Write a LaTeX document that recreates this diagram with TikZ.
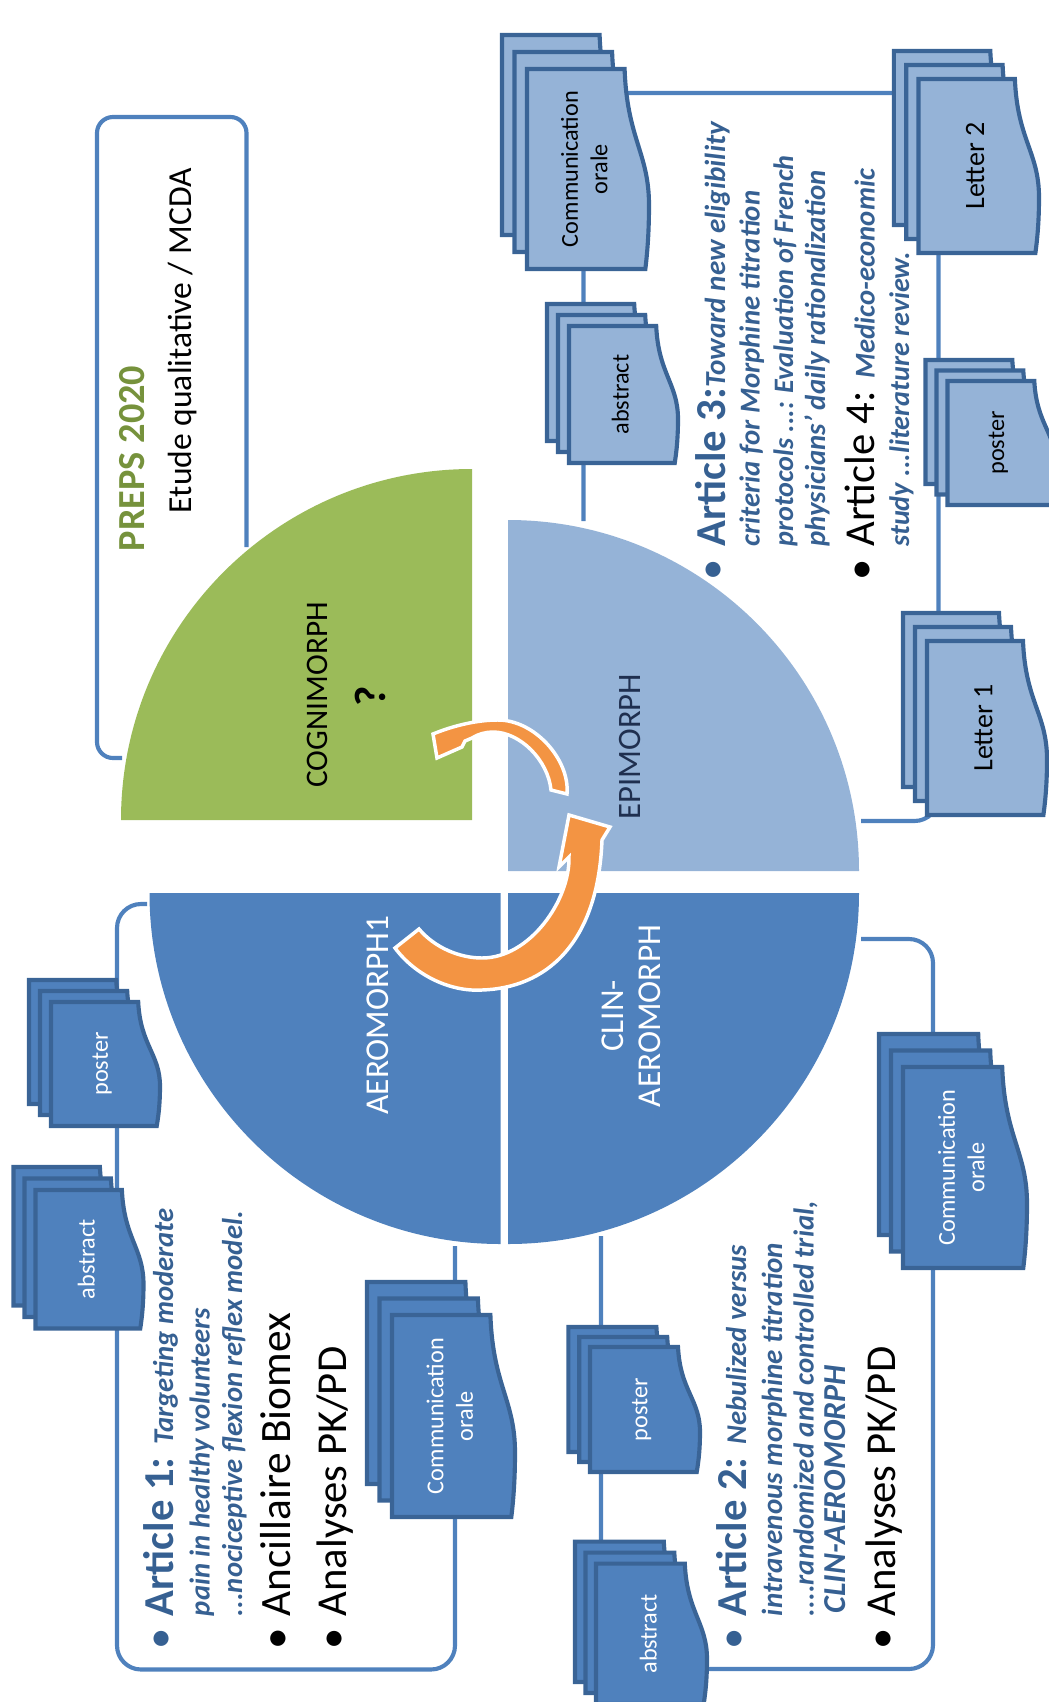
\documentclass[tikz,border=0pt]{standalone}
\usepackage{fontspec}
\setmainfont{Carlito}
\definecolor{quadblue}{HTML}{4F81BD}
\definecolor{quadlight}{HTML}{95B3D7}
\definecolor{quadgreen}{HTML}{9BBB59}
\definecolor{prepsgreen}{HTML}{76923C}
\definecolor{arrowor}{HTML}{F39443}
\definecolor{docline}{HTML}{3A6496}
\definecolor{txtblue}{HTML}{366092}
\definecolor{txtnavy}{HTML}{1F2F4F}
\newcommand{\fs}[1]{\fontsize{#1}{#1}\selectfont}
\newcommand{\blt}{\makebox[25pt][l]{•}}
\tikzset{every picture/.style={line width=0.75pt},
  vtxt/.style={rotate=90,anchor=base west,inner sep=0pt},
  vmid/.style={rotate=90,anchor=center,inner sep=0pt,align=center},
  linkline/.style={draw=quadblue,line width=3.1pt,rounded corners=18pt},
  ringarrow/.style={fill=arrowor,draw=white,line width=2.6pt,line join=miter},
  docdark/.style={fill=quadblue,draw=docline,line width=3.1pt},
  doclight/.style={fill=quadlight,draw=docline,line width=3.1pt},
  docdarktxt/.style={text=white,font=\fs{18.2}},
  doclighttxt/.style={text=black,font=\fs{18.2}}}
%name, left, top, bottom, right, dx, dy, style, label
\newcommand{\multidoc}[9]{
  \foreach \k in {2,1,0}{
    \begin{scope}[shift={(#2-\k*#6,#3-\k*#7)},xscale=#5-#2,yscale=#4-#3]
      \draw [#8] (0,0) -- (0.8,0) .. controls (0.82,0.35) and (1,0.42) .. (1,0.68) .. controls (1,0.8) and (0.99,0.9) .. (0.97,1) -- (0,1) -- cycle ;
    \end{scope}
  }
  \draw ({#2+0.47*(#5-#2)},{(#3+#4)/2}) node (#1) [vmid,#8txt] {#9};
}
\begin{document}
\begin{tikzpicture}[x=0.75pt,y=0.75pt,yscale=-1,xscale=1]
\useasboundingbox (0,0) rectangle (1049,1702);
\clip (0,0) rectangle (1049,1702);

%Quadrants
\fill [quadgreen] (472,820) -- (121,820) arc [start angle=180,end angle=270,radius=351] -- cycle ;
\fill [quadlight] (508,871) -- (859,871) arc [start angle=0,end angle=-90,radius=351] -- cycle ;
\fill [quadblue] (500.5,893) -- (149.5,893) arc [start angle=180,end angle=90,radius=351] -- cycle ;
\fill [quadblue] (508,893) -- (859,893) arc [start angle=0,end angle=90,radius=351] -- cycle ;

%Free ends of the lines
\coordinate (aeroA) at (147,904);
\coordinate (aeroB) at (455,1246);
\coordinate (clinA) at (601,1236);
\coordinate (clinB) at (861,939);
\coordinate (epiA) at (583.5,521);
\coordinate (epiB) at (861,821);
\coordinate (cogA) at (246.5,547);
\coordinate (cogB) at (122,758);

%Straight Lines
\draw [linkline] (aeroA) -| (117,1669.5) -| (aeroB) ;
\draw [linkline] (clinA) |- (933,1669) |- (clinB) ;
\draw [linkline] (epiA) |- (938.5,93) |- (epiB) ;
\draw [linkline,rounded corners=12pt] (cogA) |- (97,117) |- (cogB) ;

%Documents
\multidoc{absA}{35.5}{1190}{1328.5}{143.5}{11}{11.5}{docdark}{abstract}
\multidoc{posA}{51}{1002}{1126}{160}{11}{11}{docdark}{poster}
\multidoc{comA}{392}{1315}{1517}{515}{12.5}{16.5}{docdark}{Communication\\[4pt]orale}
\multidoc{absB}{596}{1563.6}{1704}{707}{10.5}{11}{docdark}{abstract}
\multidoc{posB}{590}{1347}{1472}{700}{10.8}{10}{docdark}{poster}
\multidoc{comB}{903}{1067}{1268}{1027}{12}{16.5}{docdark}{Communication\\[4pt]orale}
\multidoc{comC}{527}{69}{269}{649}{12.5}{17}{doclight}{Communication\\[4pt]orale}
\multidoc{absC}{569}{326}{463}{678}{11}{11}{doclight}{abstract}
\multidoc{letB}{918.5}{79}{253}{1039}{12.3}{14}{doclight}{\fs{21}Letter 2}
\multidoc{posD}{947.5}{381}{505}{1056}{11}{10.5}{doclight}{poster}
\multidoc{letA}{927}{641}{815}{1047}{12}{14}{doclight}{\fs{21}Letter 1}

%Curved arrows
\draw [ringarrow] (395,948) .. controls (415,975) and (450,992) .. (482,990) .. controls (545,988) and (598,945) .. (602,840) -- (610,827) -- (569,815) -- (559,867) -- (569,857) .. controls (570,900) and (530,958) .. (482,958) .. controls (460,958) and (435,948) .. (419,929) -- cycle ;
\draw [ringarrow] (567,794) .. controls (570,760) and (535,720) .. (498,720) .. controls (478,720) and (455,725) .. (433,734) -- (437,758) -- (462,747) -- (465,741) -- (472,738) .. controls (478,734) and (486,732) .. (493,732) .. controls (520,732) and (548,760) .. (551,790) -- cycle ;

% Text Node
\draw (327,788) node (cogtxt) [vtxt] {\fs{23.5}COGNIMORPH};
\draw (385,706.5) node (cogq) [vtxt] {\fs{33}\bfseries ?};
\draw (640.5,820) node (epitxt) [vtxt,text=txtnavy] {\fs{24.5}EPIMORPH};
\draw (388,1115) node (aertxt) [vtxt,text=white] {\fs{25}AEROMORPH1};
\draw (631,1016) node (clintxt) [vmid,text=white,font=\fs{25}] {CLIN-\\[2.5pt]AEROMORPH};
% Text Node
\draw (144.5,551.5) node (prepsa) [vtxt,text=prepsgreen] {\fs{28.7}\bfseries PREPS 2020};
\draw (191,513.7) node (prepsb) [vtxt] {\fs{25.2}Etude qualitative / MCDA};
% Text Node
\draw (173,1650) node (artaa) [vtxt,text=txtblue] {\fs{32}\blt\bfseries Article 1: \fs{21.5}\itshape Targeting moderate};
\draw (209.6,1616.5) node (artab) [vtxt,text=txtblue] {\fs{21.5}\bfseries\itshape pain in healthy volunteers};
\draw (242,1616.5) node (artac) [vtxt,text=txtblue] {\fs{21.5}\bfseries\itshape ...nociceptive flexion reflex model.};
\draw (290,1650) node (artad) [vtxt] {\fs{32.5}\makebox[25pt][l]{•}Ancillaire Biomex};
\draw (346.5,1650) node (artae) [vtxt] {\fs{32}\blt Analyses PK/PD};
% Text Node
\draw (746,1650) node (artba) [vtxt,text=txtblue] {\fs{32}\blt\bfseries Article 2: \fs{21.5}\itshape Nebulized versus};
\draw (782,1616.5) node (artbb) [vtxt,text=txtblue] {\fs{21.8}\bfseries\itshape intravenous morphine titration};
\draw (813.5,1616.5) node (artbc) [vtxt,text=txtblue] {\fs{21.6}\bfseries\itshape ....randomized and controlled trial,};
\draw (845,1614) node (artbd) [vtxt,text=txtblue] {\fs{24}\bfseries\itshape CLIN-AEROMORPH};
\draw (895,1650) node (artbe) [vtxt] {\fs{32}\blt Analyses PK/PD};
% Text Node
\draw (725,580.5) node (artca) [vtxt,text=txtblue] {\fs{32}\blt\bfseries Article 3:\fs{21.8}\itshape Toward new eligibility};
\draw (759.5,547) node (artcb) [vtxt,text=txtblue] {\fs{21.6}\bfseries\itshape criteria for Morphine titration};
\draw (793,547) node (artcc) [vtxt,text=txtblue] {\fs{21.1}\bfseries\itshape protocols ...: Evaluation of French};
\draw (825,547) node (artcd) [vtxt,text=txtblue] {\fs{21.6}\bfseries\itshape physicians’ daily rationalization};
\draw (874.6,580.5) node (artce) [vtxt] {\fs{32}\blt Article 4: \fs{21.5}\bfseries\itshape\color{txtblue}Medico-economic};
\draw (909,547) node (artcf) [vtxt,text=txtblue] {\fs{21.2}\bfseries\itshape study ...literature review.};

\end{tikzpicture}
\end{document}
